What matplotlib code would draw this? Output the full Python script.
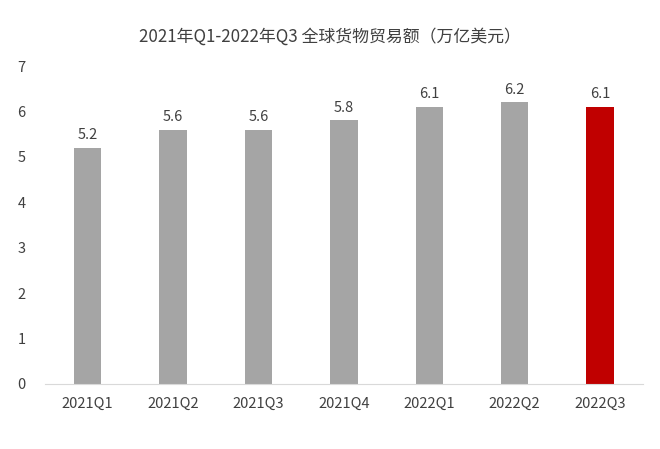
import matplotlib
matplotlib.use("Agg")
import matplotlib.pyplot as plt

plt.rcParams['font.family'] = ['Noto Sans CJK SC', 'DejaVu Sans']

quarters = ["2021Q1", "2021Q2", "2021Q3", "2021Q4", "2022Q1", "2022Q2", "2022Q3"]
values = [5.2, 5.6, 5.6, 5.8, 6.1, 6.2, 6.1]
title = "2021年Q1-2022年Q3 全球货物贸易额（万亿美元）"

colors = ["#A5A5A5"] * (len(values) - 1) + ["#C00000"]
text_color = "#404040"

fig = plt.figure(figsize=(6.6, 4.49), dpi=100)
ax = fig.add_axes([0.068, 0.145, 0.906, 0.708])

x = range(len(quarters))
ax.bar(x, values, width=0.32, color=colors, zorder=2)
for xi, v in zip(x, values):
    ax.text(xi, v + 0.12, f"{v:.1f}", ha="center", va="bottom", fontsize=10.5,
            color=text_color)

ax.set_xlim(-0.5, len(quarters) - 0.5)
ax.set_ylim(0, 7)
ax.set_xticks(list(x))
ax.set_xticklabels(quarters, fontsize=10.5, color=text_color)
ax.set_yticks(range(0, 8))
ax.tick_params(axis="y", labelsize=10.5, colors=text_color, length=0, pad=14)
ax.tick_params(axis="x", length=0, pad=9)
for s in ["top", "right", "left"]:
    ax.spines[s].set_visible(False)
ax.spines["bottom"].set_color("#D9D9D9")

fig.text(0.5, 0.918, title, ha="center", va="center", fontsize=12.2, color=text_color)

fig.savefig("out.png", dpi=100)
